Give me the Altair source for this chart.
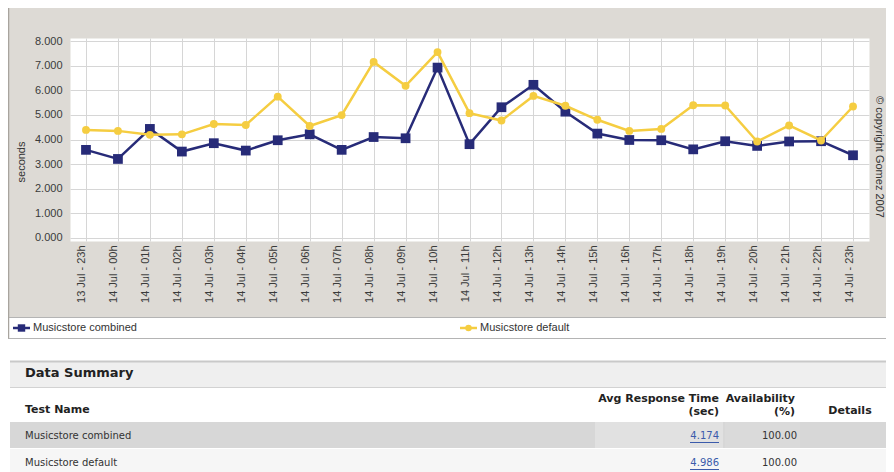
import altair as alt
import pandas as pd

# ---------------- data ----------------
hours = ["13 Jul - 23h", "14 Jul - 00h", "14 Jul - 01h", "14 Jul - 02h", "14 Jul - 03h",
         "14 Jul - 04h", "14 Jul - 05h", "14 Jul - 06h", "14 Jul - 07h", "14 Jul - 08h",
         "14 Jul - 09h", "14 Jul - 10h", "14 Jul - 11h", "14 Jul - 12h", "14 Jul - 13h",
         "14 Jul - 14h", "14 Jul - 15h", "14 Jul - 16h", "14 Jul - 17h", "14 Jul - 18h",
         "14 Jul - 19h", "14 Jul - 20h", "14 Jul - 21h", "14 Jul - 22h", "14 Jul - 23h"]
combined = [3.58, 3.21, 4.43, 3.51, 3.85, 3.55, 3.97, 4.21, 3.58, 4.10, 4.05, 6.92, 3.81,
            5.31, 6.22, 5.13, 4.24, 3.98, 3.97, 3.60, 3.93, 3.74, 3.92, 3.93, 3.36]
default = [4.39, 4.35, 4.19, 4.21, 4.63, 4.59, 5.74, 4.55, 4.99, 7.15, 6.18, 7.55, 5.07,
           4.77, 5.77, 5.37, 4.80, 4.35, 4.43, 5.39, 5.38, 3.92, 4.57, 3.96, 5.34]
series = ["Musicstore combined", "Musicstore default"]
y_ticks = [0, 1, 2, 3, 4, 5, 6, 7, 8]
y_title = "seconds"
copyright_text = "© copyright Gomez 2007"
summary_title = "Data Summary"
col_headers = ["Test Name", "Avg Response Time", "(sec)", "Availability", "(%)", "Details"]
avg_time = ["4.174", "4.986"]
availability = ["100.00", "100.00"]

# ---------------- styles ----------------
NAVY = "#272b78"
YELLOW = "#f5cd41"
colors = [NAVY, YELLOW]
shapes = ["square", "circle"]
sizes = [95, 62]
PANEL = "#dddad5"
CHART_FONT = "Liberation Sans"
TABLE_FONT = "DejaVu Sans"
W, H = 799, 203

one = alt.Data(values=[{"k": 0}])


def rect(x1, x2, y1, y2, color):
    return alt.Chart(one).mark_rect(color=color).encode(
        x=alt.value(x1), x2=alt.value(x2), y=alt.value(y1), y2=alt.value(y2))


def rule(x1, x2, y1, y2, color, w=1.0):
    return alt.Chart(one).mark_rule(color=color, strokeWidth=w).encode(
        x=alt.value(x1), x2=alt.value(x2), y=alt.value(y1), y2=alt.value(y2))


def text(s, x, y, size=11, font=CHART_FONT, weight="normal", align="left",
         color="#333333", angle=0):
    return alt.Chart(one).mark_text(
        text=s, align=align, baseline="middle", font=font, fontSize=size,
        fontWeight=weight, color=color, angle=angle).encode(
        x=alt.value(x), y=alt.value(y))


x_enc = alt.X("time:O", sort=hours,
              scale=alt.Scale(type="point", padding=0.5, domain=hours),
              axis=alt.Axis(title=None, labelAngle=270, labelPadding=4, labelOffset=-4,
                            labelFont=CHART_FONT, labelFontSize=11, labelColor="#3a3a3a",
                            labelOverlap=False, domain=False, ticks=False, grid=True,
                            gridColor="#d6d6d6", gridWidth=1))
y_enc = alt.Y("seconds:Q",
              scale=alt.Scale(domain=[-0.122, 8.122], nice=False, zero=False),
              axis=alt.Axis(title=None, values=y_ticks, format=".3f", labelPadding=8,
                            labelFont=CHART_FONT, labelFontSize=11, labelColor="#3a3a3a",
                            domain=False, ticks=False, grid=True, gridColor="#d6d6d6",
                            gridWidth=1))

layers = []
# lower white area (legend + table region)
layers.append(rect(-62, 830, 279, 440, "white"))
layers.append(rule(-62, 830, 279.5, 279.5, "#b4b4b4"))
layers.append(rule(-62, 830, 300.5, 300.5, "#b4b4b4"))
layers.append(rule(-61.5, -61.5, -30, 300.5, "#a8a49e", 1.5))

for i, vals in enumerate([combined, default]):
    d = pd.DataFrame({"time": hours, "seconds": vals, "series": series[i]})
    base = alt.Chart(d).encode(x=x_enc, y=y_enc)
    layers.append(base.mark_line(color=colors[i], strokeWidth=2.5))
    layers.append(base.mark_point(shape=shapes[i], filled=True, opacity=1,
                                  size=sizes[i], color=colors[i]))

# axis title and copyright
layers.append(text(y_title, -48, 124, angle=270, align="center"))
layers.append(text(copyright_text, 809, 119, angle=90, align="center"))

# legend
leg_x = [-57, 390]
for i, name in enumerate(series):
    x0 = leg_x[i]
    layers.append(rule(x0, x0 + 17, 290, 290, colors[i], 2.5))
    layers.append(alt.Chart(one).mark_point(shape=shapes[i], filled=True, opacity=1,
                                            size=[55, 42][i], color=colors[i]).encode(
        x=alt.value(x0 + 8.5), y=alt.value(290)))
    layers.append(text(name, x0 + 20, 290, size=11))

# data summary table
layers.append(rect(-60, 830, 323, 349, "#efefef"))
layers.append(rule(-60, 830, 323.5, 323.5, "#c9c9c9", 2))
layers.append(rule(-60, 830, 349.5, 349.5, "#d2d2d2", 1))
layers.append(text(summary_title, -45, 335, size=13, font=TABLE_FONT, weight="bold",
                   color="#222222"))
layers.append(text(col_headers[0], -45, 372, size=11, font=TABLE_FONT, weight="bold",
                   color="#222222"))
layers.append(text(col_headers[1], 649, 361, size=11, font=TABLE_FONT, weight="bold",
                   align="right", color="#222222"))
layers.append(text(col_headers[2], 649, 374, size=11, font=TABLE_FONT, weight="bold",
                   align="right", color="#222222"))
layers.append(text(col_headers[3], 725, 361, size=11, font=TABLE_FONT, weight="bold",
                   align="right", color="#222222"))
layers.append(text(col_headers[4], 725, 374, size=11, font=TABLE_FONT, weight="bold",
                   align="right", color="#222222"))
layers.append(text(col_headers[5], 780, 373, size=11, font=TABLE_FONT, weight="bold",
                   align="center", color="#222222"))

row_y = [398, 425]
row_bg = [("#d7d7d7", 384, 410), ("#f6f6f6", 411, 440)]
for i in range(2):
    c, y1, y2 = row_bg[i]
    layers.append(rect(-60, 830, y1, y2, c))
    if i == 0:
        layers.append(rect(525, 653, y1, y2, "#e1e1e1"))
        layers.append(rect(655, 730, y1, y2, "#dadada"))
    layers.append(text(series[i], -45, row_y[i], size=10, font=TABLE_FONT, color="#333333"))
    layers.append(text(avg_time[i], 649, row_y[i], size=10, font=TABLE_FONT,
                       align="right", color="#3b5bab"))
    layers.append(rule(620, 649, row_y[i] + 6.5, row_y[i] + 6.5, "#3b5bab", 1))
    layers.append(text(availability[i], 727, row_y[i], size=10, font=TABLE_FONT,
                       align="right", color="#333333"))

chart = alt.layer(*layers).properties(
    width=W, height=H,
    padding={"left": 62, "top": 30, "right": 17, "bottom": 231},
    autosize=alt.AutoSizeParams(type="none"),
    background=PANEL,
).configure_view(fill="white", stroke="transparent")

chart.save("out.html", embed_options={"renderer": "svg", "actions": False})
